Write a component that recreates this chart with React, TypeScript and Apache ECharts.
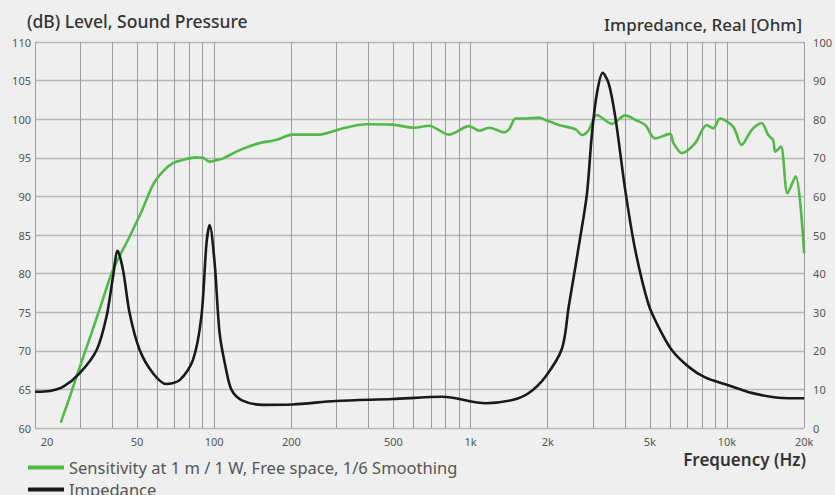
import React, { useEffect, useRef } from "react";
import * as echarts from "echarts";

const gridFreqs = [20, 30, 40, 50, 60, 70, 80, 90, 100, 200, 300, 400, 500, 600, 700, 800, 900, 1000, 2000, 3000, 4000, 5000, 6000, 7000, 8000, 9000, 10000, 20000];
const labelFreqs = [20, 50, 100, 200, 500, 1000, 2000, 5000, 10000, 20000];

const sensFreq = [25.2, 27.5, 29.9, 33, 36, 40.3, 46.8, 52, 57.7, 63, 69, 77, 85, 90.4, 96, 102, 108, 122, 135, 150, 174, 202, 257, 316, 391, 496, 602, 688, 824, 988, 1081, 1182, 1353, 1420, 1498, 1650, 1846, 1959, 2208, 2565, 2723, 2890, 3111, 3557, 4010, 4400, 4800, 5248, 6000, 6185, 6663, 7515, 8336, 8853, 9398, 10587, 11405, 12478, 13647, 14489, 15140, 15440, 16236, 17230, 18517, 20000];
const sensDb = [60.7, 64.3, 67.9, 72.0, 75.7, 80.5, 84.8, 88.0, 91.5, 93.2, 94.3, 94.8, 95.05, 95.0, 94.5, 94.7, 94.9, 95.8, 96.4, 96.9, 97.3, 98.0, 98.0, 98.8, 99.35, 99.3, 98.9, 99.15, 98.0, 99.1, 98.5, 98.9, 98.3, 98.8, 100.1, 100.1, 100.2, 99.9, 99.25, 98.7, 97.95, 98.6, 100.55, 99.4, 100.5, 99.9, 99.25, 97.5, 98.1, 96.9, 95.6, 96.9, 99.25, 98.8, 100.1, 99.0, 96.65, 98.6, 99.5, 97.95, 97.3, 95.8, 96.45, 90.4, 92.6, 82.6];

const impFreq = [20, 22.9, 25.8, 29.9, 34.8, 38, 40.3, 42, 44.1, 46.8, 51.2, 57.7, 65, 73.3, 82.6, 89.1, 93.3, 96, 100.4, 105, 111, 117, 129, 155, 202, 298, 496, 776, 1146, 1455, 1682, 1959, 2273, 2414, 2681, 2845, 2975, 3111, 3275, 3457, 3668, 4010, 4389, 4944, 5406, 6092, 7074, 8218, 10120, 12478, 15840, 20000];
const impOhm = [9.4, 9.6, 10.7, 14.2, 20.2, 28.8, 39.2, 45.9, 40.9, 29.7, 20.2, 14.2, 11.4, 12.4, 17.6, 28.8, 47.8, 52.6, 42.7, 24.5, 15.5, 9.8, 7.1, 6.0, 6.1, 7.0, 7.5, 8.1, 6.4, 7.25, 9.0, 13.3, 20.6, 31.4, 49.6, 60.8, 76.3, 86.7, 92.0, 89.3, 80.6, 61.7, 46.1, 32.0, 26.2, 20.2, 15.9, 13.1, 11.1, 9.1, 7.85, 7.7];

const FONT = "'Noto Sans', sans-serif";
const GREEN = "#52b948";
const BLACK = "#161a18";

export default function App() {
  const ref = useRef<HTMLDivElement>(null);
  useEffect(() => {
    if (!ref.current) return;
    const chart = echarts.init(ref.current, undefined, { renderer: "svg" });
    const lg = (f: number) => Math.log10(f);
    const fmt = (v: number) => {
      const f = Math.round(Math.pow(10, v));
      if (f === 20) return "{first|20}";
      return f >= 1000 ? f / 1000 + "k" : String(f);
    };
    chart.setOption({
      animation: false,
      backgroundColor: "#eeefee",
      textStyle: { fontFamily: FONT },
      grid: { left: 35, right: 29, top: 42, bottom: 67, containLabel: false },
      title: [
        { text: "(dB) Level, Sound Pressure", left: 22, top: 7, textStyle: { fontFamily: FONT, fontSize: 17.5, fontWeight: 500, color: "#333" } },
        { text: "Impredance, Real [Ohm]", right: 28, top: 11, textStyle: { fontFamily: FONT, fontSize: 17, fontWeight: 500, color: "#333" } },
        { text: "Frequency (Hz)", right: 24, top: 446, textStyle: { fontFamily: FONT, fontSize: 17, fontWeight: 600, color: "#333" } },
      ],
      legend: {
        orient: "vertical",
        left: 23,
        top: 453,
        height: 80,
        icon: "rect",
        itemWidth: 36,
        itemHeight: 4,
        itemGap: 3,
        textStyle: { fontFamily: FONT, fontSize: 16.5, color: "#555", lineHeight: 19 },
        data: ["Sensitivity at 1 m / 1 W, Free space, 1/6 Smoothing", "Impedance"],
      },
      xAxis: {
        type: "value",
        min: lg(20),
        max: lg(20000),
        axisLine: { show: false },
        axisTick: { show: false, customValues: gridFreqs.map(lg) },
        splitLine: { show: true, lineStyle: { color: "#9d9d9d", width: 1 } },
        axisLabel: {
          customValues: labelFreqs.map(lg),
          formatter: fmt,
          color: "#555",
          fontSize: 11,
          fontFamily: FONT,
          margin: 8,
          rich: { first: { padding: [0, 0, 0, 24], fontSize: 11, color: "#555", fontFamily: FONT } },
        },
      },
      yAxis: [
        {
          type: "value",
          min: 60,
          max: 110,
          interval: 5,
          axisLine: { show: false },
          axisTick: { show: false },
          axisLabel: { color: "#555", fontSize: 11, margin: 4, fontFamily: FONT },
          splitLine: { show: true, lineStyle: { color: "#b6b6b6", width: 1.3 } },
        },
        {
          type: "value",
          min: 0,
          max: 100,
          interval: 10,
          position: "right",
          axisLine: { show: false },
          axisTick: { show: false },
          axisLabel: { color: "#555", fontSize: 11, margin: 9, fontFamily: FONT },
          splitLine: { show: false },
        },
      ],
      series: [
        {
          name: "Sensitivity at 1 m / 1 W, Free space, 1/6 Smoothing",
          type: "line",
          yAxisIndex: 0,
          data: sensFreq.map((f, i) => [lg(f), sensDb[i]]),
          smooth: 0.3,
          showSymbol: false,
          symbol: "none",
          lineStyle: { color: GREEN, width: 2.6 },
          itemStyle: { color: GREEN },
        },
        {
          name: "Impedance",
          type: "line",
          yAxisIndex: 1,
          data: impFreq.map((f, i) => [lg(f), impOhm[i]]),
          smooth: 0.3,
          showSymbol: false,
          symbol: "none",
          lineStyle: { color: BLACK, width: 2.6 },
          itemStyle: { color: BLACK },
        },
      ],
    });
    return () => chart.dispose();
  }, []);
  return <div ref={ref} style={{ position: "fixed", left: 0, top: 0, width: 835, height: 495 }} />;
}
